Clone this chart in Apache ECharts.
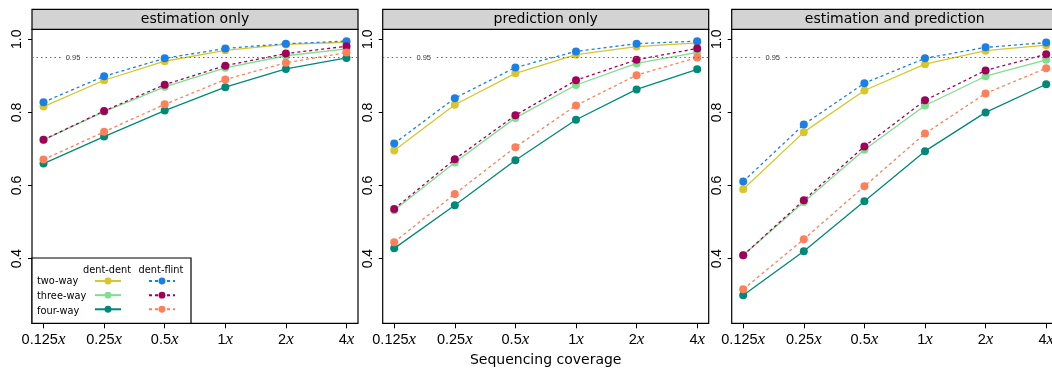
<!DOCTYPE html>
<html>
<head>
<meta charset="utf-8">
<script src="https://cdn.jsdelivr.net/npm/echarts@6/dist/echarts.min.js"></script>
<style>
  html, body { margin: 0; padding: 0; background: #fff; }
  #chart { width: 1052px; height: 371px; }
</style>
</head>
<body>
<div id="chart"></div>
<script>
// coverage levels on the x axis
const coverage = ['0.125', '0.25', '0.5', '1', '2', '4'];
const panelTitles = ['estimation only', 'prediction only', 'estimation and prediction'];

// estimation only
const estDD2 = [0.816, 0.888, 0.940, 0.970, 0.986, 0.992];
const estDD3 = [0.725, 0.802, 0.870, 0.922, 0.955, 0.974];
const estDD4 = [0.660, 0.734, 0.805, 0.869, 0.919, 0.949];
const estDF2 = [0.828, 0.899, 0.948, 0.975, 0.988, 0.995];
const estDF3 = [0.725, 0.804, 0.876, 0.928, 0.961, 0.981];
const estDF4 = [0.671, 0.747, 0.822, 0.890, 0.936, 0.964];

// prediction only
const predDD2 = [0.696, 0.821, 0.907, 0.958, 0.980, 0.990];
const predDD3 = [0.532, 0.663, 0.785, 0.875, 0.934, 0.964];
const predDD4 = [0.428, 0.546, 0.669, 0.780, 0.863, 0.918];
const predDF2 = [0.715, 0.839, 0.923, 0.967, 0.988, 0.995];
const predDF3 = [0.536, 0.672, 0.792, 0.888, 0.944, 0.975];
const predDF4 = [0.445, 0.577, 0.705, 0.819, 0.902, 0.950];

// estimation and prediction
const bothDD2 = [0.590, 0.746, 0.860, 0.932, 0.969, 0.984];
const bothDD3 = [0.409, 0.555, 0.698, 0.819, 0.899, 0.944];
const bothDD4 = [0.300, 0.420, 0.557, 0.694, 0.800, 0.877];
const bothDF2 = [0.611, 0.767, 0.880, 0.948, 0.978, 0.991];
const bothDF3 = [0.409, 0.560, 0.707, 0.833, 0.915, 0.959];
const bothDF4 = [0.316, 0.453, 0.598, 0.742, 0.852, 0.921];

const threshold = 0.95;
const yTicks = [0.4, 0.6, 0.8, 1.0];
const xTicks = [0, 1, 2, 3, 4, 5];

const panelData = [
    [estDD2, estDD3, estDD4, estDF2, estDF3, estDF4],
    [predDD2, predDD3, predDD4, predDF2, predDF3, predDF4],
    [bothDD2, bothDD3, bothDD4, bothDF2, bothDF3, bothDF4],
];

const seriesNames = [
    'two-way dent-dent', 'three-way dent-dent', 'four-way dent-dent',
    'two-way dent-flint', 'three-way dent-flint', 'four-way dent-flint',
];
const seriesColors = ['#d8c62a', '#7edf8c', '#008878', '#1a7fe6', '#a0005a', '#ff7f5a'];
const seriesDashed = [false, false, false, true, true, true];

const panelLeft = [32, 382.7, 731.7];
const panelWidth = 326;
const gridTop = 29.3;
const gridHeight = 294;

const SANS = 'DejaVu Sans';
const TICKFONT = 'Liberation Sans';

const chart = echarts.init(document.getElementById('chart'), null, { renderer: 'canvas' });

const grids = [];
const xAxes = [];
const yAxes = [];
const series = [];
const graphics = [];

panelLeft.forEach((left, p) => {
    grids.push({
        left: left,
        top: gridTop,
        width: panelWidth,
        height: gridHeight,
        outerBoundsMode: 'none',
        containLabel: false,
        show: true,
        borderColor: '#000',
        borderWidth: 1.2,
        backgroundColor: 'transparent',
    });

    xAxes.push({
        type: 'value',
        gridIndex: p,
        min: -0.19,
        max: 5.19,
        axisLine: { show: false, onZero: false },
        splitLine: { show: false },
        axisTick: {
            show: true,
            customValues: xTicks,
            length: 5,
            lineStyle: { color: '#000', width: 1 },
        },
        axisLabel: {
            customValues: xTicks,
            margin: 8,
            color: '#000',
            formatter: (v) => '{n|' + coverage[Math.round(v)] + '}{x|x}',
            rich: {
                n: { fontFamily: TICKFONT, fontSize: 14.5, color: '#000' },
                x: { fontFamily: 'Liberation Serif', fontStyle: 'italic', fontSize: 17, color: '#000' },
            },
        },
        name: p === 1 ? 'Sequencing coverage' : '',
        nameLocation: 'middle',
        nameGap: 30,
        nameTextStyle: { fontFamily: SANS, fontSize: 14, color: '#000' },
    });

    yAxes.push({
        type: 'value',
        gridIndex: p,
        min: 0.223,
        max: 1.0274,
        axisLine: { show: false, onZero: false },
        splitLine: { show: false },
        axisTick: {
            show: true,
            customValues: yTicks,
            length: 4,
            lineStyle: { color: '#000', width: 1 },
        },
        axisLabel: {
            customValues: yTicks,
            rotate: 90,
            margin: 8,
            fontFamily: TICKFONT,
            fontSize: 14,
            color: '#000',
            formatter: (v) => v.toFixed(1),
        },
    });

    panelData[p].forEach((vals, s) => {
        const item = {
            name: seriesNames[s],
            type: 'line',
            xAxisIndex: p,
            yAxisIndex: p,
            data: vals.map((v, i) => [i, v]),
            symbol: 'circle',
            symbolSize: 8,
            showSymbol: true,
            color: seriesColors[s],
            itemStyle: { color: seriesColors[s] },
            lineStyle: {
                color: seriesColors[s],
                width: 1.3,
                type: seriesDashed[s] ? [3, 3] : 'solid',
            },
            animation: false,
            silent: true,
            z: seriesDashed[s] ? 3 : 2,
        };
        if (s === 0) {
            // 0.95 reference line
            item.markLine = {
                silent: true,
                symbol: 'none',
                animation: false,
                lineStyle: { color: '#666', type: [1.5, 3], width: 1 },
                label: {
                    show: true,
                    position: 'insideStartTop',
                    distance: [41, 0],
                    align: 'center',
                    verticalAlign: 'middle',
                    formatter: '0.95',
                    fontFamily: TICKFONT,
                    fontSize: 7.5,
                    color: '#333',
                    backgroundColor: '#fff',
                    padding: [0, 3],
                },
                data: [{ yAxis: threshold }],
            };
        }
        series.push(item);
    });

    // strip header
    graphics.push({
        type: 'rect',
        shape: { x: left, y: 9.3, width: panelWidth, height: gridTop - 9.3 },
        style: { fill: '#d3d3d3', stroke: '#000', lineWidth: 1.2 },
        z: 10,
    });
    graphics.push({
        type: 'text',
        x: left + panelWidth / 2,
        y: 19.5,
        style: {
            text: panelTitles[p],
            fontFamily: SANS,
            fontSize: 14,
            fill: '#000',
            textAlign: 'center',
            textVerticalAlign: 'middle',
        },
        z: 11,
    });
});

// legend box in the first panel
graphics.push({
    type: 'rect',
    shape: { x: 32, y: 258, width: 159, height: 65.3 },
    style: { fill: '#fff', stroke: '#000', lineWidth: 1.2 },
    z: 1,
});
const legendText = [
    ['dent-dent', 107, 270, 'center'],
    ['dent-flint', 161, 270, 'center'],
    ['two-way', 37, 281, 'left'],
    ['three-way', 37, 296, 'left'],
    ['four-way', 37, 311, 'left'],
];
legendText.forEach(([t, x, y, a]) => {
    graphics.push({
        type: 'text',
        x: x,
        y: y,
        style: {
            text: t,
            fontFamily: SANS,
            fontSize: 9.8,
            fill: '#000',
            textAlign: a,
            textVerticalAlign: 'middle',
        },
        z: 12,
    });
});

const legendCommon = {
    orient: 'vertical',
    top: 276.7,
    itemWidth: 26,
    itemHeight: 8.6,
    itemGap: 6.4,
    padding: 0,
    selectedMode: false,
    formatter: () => '',
    textStyle: { fontSize: 1 },
    z: 12,
};

const option = {
    backgroundColor: '#fff',
    animation: false,
    grid: grids,
    xAxis: xAxes,
    yAxis: yAxes,
    legend: [
        Object.assign({ left: 94, data: seriesNames.slice(0, 3) }, legendCommon),
        Object.assign({ left: 148, data: seriesNames.slice(3) }, legendCommon),
    ],
    graphic: { elements: graphics },
    series: series,
};

chart.setOption(option);
</script>
</body>
</html>
